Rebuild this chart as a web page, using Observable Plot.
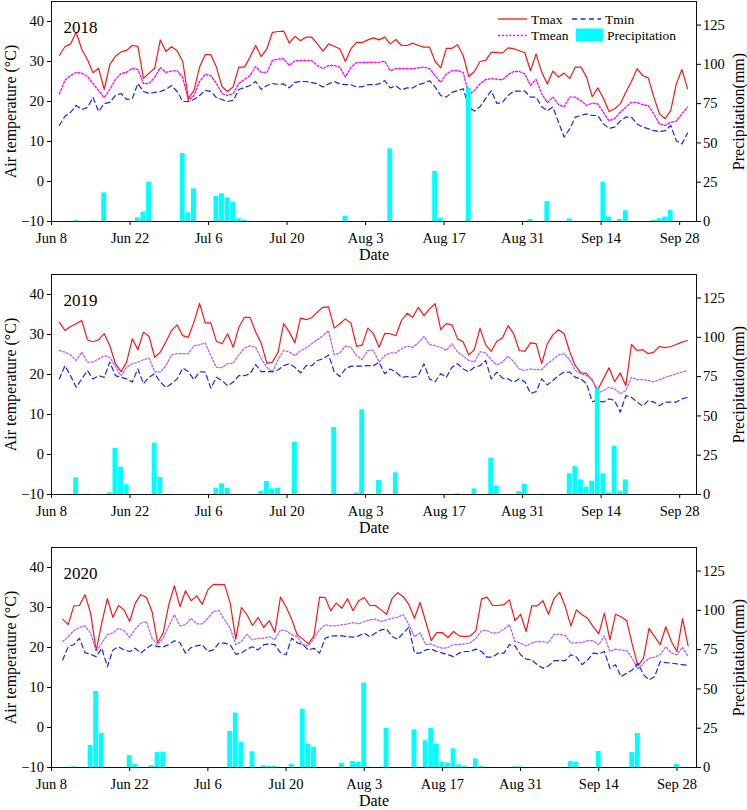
<!DOCTYPE html>
<html>
<head>
<meta charset="utf-8">
<script src="https://cdn.jsdelivr.net/npm/d3@7"></script>
<script src="https://cdn.jsdelivr.net/npm/@observablehq/plot@0.6"></script>
<style>
  body { margin: 0; background: #fff; }
  #chart { position: relative; width: 747px; height: 810px; overflow: hidden; }
  #chart svg { display: block; }
  #legend { position: absolute; left: 0; top: 0; }
</style>
</head>
<body>
<div id="chart"></div>
<script>
// ---------- axis ticks ----------
const tickDays = [0, 14, 28, 42, 56, 70, 84, 98, 112]; // days after Jun 8
const tickLabels = ["Jun 8", "Jun 22", "Jul 6", "Jul 20", "Aug 3", "Aug 17", "Aug 31", "Sep 14", "Sep 28"];
const tempTicks = [-10, 0, 10, 20, 30, 40];
const rainTicks = [0, 25, 50, 75, 100, 125];
const tempDomain = [-10, 45];
const rainMax = 140;

// ---------- 2018 ----------
const tmax2018 = [31.5,33.7,34.4,37.3,33.0,30.5,27.2,28.3,23.0,29.2,31.3,32.4,32.8,34.0,33.8,25.8,27.1,28.3,35.4,32.5,33.7,32.7,30.0,20.8,22.7,28.6,31.7,31.7,28.6,23.7,22.5,23.7,28.6,28.6,31.1,34.0,31.2,33.2,37.3,37.5,
  37.6,34.6,36.3,35.2,36.1,36.1,34.4,32.6,34.4,33.8,33.2,30.0,33.2,34.8,34.7,35.4,35.9,35.4,36.1,34.4,35.5,34.0,34.0,34.6,34.0,33.6,33.6,30.0,28.4,33.3,33.3,34.2,31.5,26.2,27.5,30.0,30.3,32.3,32.3,
  32.1,33.4,33.2,32.7,32.2,27.7,31.9,27.3,24.4,27.6,26.1,27.1,25.7,28.6,28.6,26.1,21.2,23.4,20.8,17.5,18.2,19.4,22.3,25.0,28.2,26.5,25.9,21.1,16.9,15.7,17.7,24.4,28.0,23.2];
const tmean2018 = [21.9,25.3,26.5,27.3,27.1,26.3,24.5,22.7,21.0,23.0,25.5,27.0,27.3,28.3,28.0,24.5,24.5,26.0,28.5,27.3,27.6,27.7,26.0,20.3,21.5,25.0,26.8,26.5,24.5,22.0,21.5,22.0,24.5,25.5,26.5,28.7,27.3,27.3,30.3,30.6,
  30.7,29.0,30.2,30.2,30.2,30.2,29.0,28.2,29.0,29.0,28.6,26.1,28.6,29.7,29.7,29.8,29.8,29.8,30.1,27.7,28.2,28.2,28.2,28.2,28.4,28.6,28.2,26.5,24.8,26.9,27.7,27.7,27.3,21.7,22.7,24.4,25.5,25.7,25.6,
  25.4,26.7,27.5,27.5,26.9,24.0,25.5,21.9,19.7,21.1,19.2,18.7,21.1,21.1,20.2,19.0,19.6,19.4,17.3,15.2,15.7,17.3,18.6,19.8,19.8,19.2,19.0,16.9,14.4,14.0,14.8,15.1,16.9,18.6];
const tmin2018 = [14.0,16.3,17.3,19.0,18.0,18.5,21.0,17.5,19.5,19.8,21.5,22.0,20.5,20.7,24.5,22.5,22.0,22.3,22.5,23.0,24.0,22.5,20.0,20.0,20.5,21.5,22.8,22.5,21.0,20.5,20.0,20.3,23.0,23.5,24.0,25.0,23.0,24.0,24.5,24.3,
  24.4,23.4,24.8,25.0,25.0,24.7,24.4,23.6,24.4,25.0,24.4,24.2,24.2,23.6,23.7,24.2,24.2,24.4,25.2,23.4,23.9,22.9,23.4,23.4,24.2,24.6,25.2,23.6,21.5,21.1,22.3,22.7,23.2,18.6,17.6,18.7,20.7,22.7,19.5,
  19.8,21.5,22.6,22.6,22.6,21.1,21.1,18.7,17.7,18.6,14.8,11.1,13.2,16.1,16.5,16.9,16.5,16.5,14.4,13.3,13.6,15.1,16.1,16.1,14.4,13.6,13.2,12.7,12.5,12.7,14.0,10.2,9.4,12.1];
const rainDay2018 = [3,6,8,14,15,16,22,23,24,28,29,30,31,32,33,51,59,67,68,73,84,87,91,97,98,100,101,106,107,108,109];
const rainMm2018  = [0.6,0.3,18.2,2.3,5.9,25,43.3,5.5,20.8,15.9,17.6,15,12.3,1.7,0.6,3.2,46.2,31.8,1.9,84.9,1.3,12.7,1.7,25,2.8,1.3,6.8,0.6,1.7,2.8,7];

// ---------- 2019 ----------
const tmax2019 = [33.1,31.0,32.0,32.7,33.5,28.7,28.2,28.7,30.2,27.2,22.7,20.7,23.1,28.9,26.2,30.6,29.5,24.3,25.6,28.2,31.0,32.4,29.7,29.3,33.1,37.8,32.9,32.9,28.3,27.7,30.2,26.8,31.8,34.3,34.3,30.6,27.8,22.8,23.1,25.6,
  32.7,30.6,27.9,34.1,33.7,34.2,35.6,36.8,36.9,31.6,32.7,33.9,32.8,27.0,27.4,31.6,30.2,26.8,30.2,30.2,29.7,33.5,35.3,34.3,36.8,34.7,36.4,37.7,31.2,32.7,32.4,28.9,28.2,24.9,26.2,31.6,27.4,25.8,28.3,
  29.1,32.2,30.2,26.0,25.8,27.9,27.7,22.7,27.7,29.9,31.2,30.2,25.7,22.2,20.4,20.3,18.5,16.2,18.9,21.7,18.2,20.4,17.2,27.5,26.0,26.2,25.2,25.6,27.0,26.7,27.0,27.5,28.1,28.5];
const tmean2019 = [26.0,25.6,24.9,23.5,25.6,23.1,23.1,23.9,24.7,24.3,22.0,19.7,21.8,22.7,23.1,23.7,24.1,20.7,20.6,22.2,24.9,25.2,25.2,25.2,27.2,27.4,27.9,24.7,21.8,21.7,22.7,22.8,24.9,26.6,27.2,26.8,23.9,21.8,20.6,23.7,
  26.0,25.6,24.7,26.0,26.6,27.7,28.7,29.7,31.0,24.9,25.4,27.1,26.8,24.7,23.7,26.0,26.0,23.1,24.7,25.4,25.4,26.4,27.1,26.8,27.9,29.5,27.5,27.2,26.8,26.0,27.7,25.6,24.6,23.5,23.1,25.7,25.4,23.7,22.4,
  23.1,24.6,23.2,21.4,21.0,21.4,21.2,21.2,22.7,23.7,24.9,25.2,23.7,21.0,20.2,19.7,18.9,15.2,16.0,16.8,16.4,15.2,16.0,19.3,18.7,18.7,18.5,18.2,18.7,19.3,19.7,20.2,20.6,21.0];
const tmin2019 = [18.9,22.2,19.7,16.8,18.9,21.0,18.9,19.7,19.3,23.1,19.7,19.3,18.9,18.1,21.4,17.7,19.3,20.2,18.1,16.8,17.7,18.9,21.6,20.7,18.7,20.7,20.6,16.6,19.3,18.5,17.2,18.1,19.7,19.7,20.2,22.5,20.7,20.7,20.7,21.2,
  22.2,22.7,21.8,20.4,22.2,22.2,23.5,23.9,24.9,20.7,19.5,21.4,22.1,22.1,22.1,22.2,22.2,23.1,20.2,21.4,20.6,19.3,19.5,19.3,19.7,22.7,18.9,18.2,20.2,19.3,21.8,22.7,21.4,20.7,21.8,22.2,23.5,18.9,20.6,
  19.1,18.9,18.1,18.9,18.2,15.3,15.7,18.9,17.4,18.5,19.7,20.6,20.6,19.3,18.9,17.7,13.2,13.5,13.1,13.9,13.5,10.6,14.7,14.3,13.1,12.1,13.5,13.1,12.2,13.1,13.1,13.1,13.9,14.3];
const rainDay2019 = [3,5,9,10,11,12,17,18,28,29,30,36,37,38,39,42,49,53,54,57,60,71,74,77,78,82,83,86,91,92,93,94,95,96,97,98,99,100,101];
const rainMm2019  = [10.6,0.2,1.0,29.3,17.4,6.2,32.7,10.8,3.8,6.8,3.8,2.1,8.3,3.6,4.0,33.3,42.6,1.0,53.9,8.9,13.8,0.4,3.6,23.1,5.3,1.9,6.4,0.2,13.2,17.8,9.3,4.7,8.5,67.2,13.2,1.0,30.8,2.1,9.3];

// ---------- 2020 ----------
const tmax2020 = [27.1,25.7,30.4,30.5,33.2,28.6,19.2,26.1,32.2,27.5,30.5,29.4,26.5,31.1,33.2,32.5,29.0,21.2,23.6,30.7,35.4,30.2,34.2,31.7,32.9,30.8,34.4,35.8,35.7,35.7,31.1,22.1,30.0,28.2,25.5,27.5,25.0,26.7,23.8,32.6,
  30.2,27.1,23.2,22.1,20.9,22.9,32.6,32.5,29.2,31.1,29.8,32.2,29.2,31.7,32.5,30.5,30.5,29.4,28.3,32.3,33.7,32.7,30.7,27.3,31.3,26.5,21.7,23.7,23.7,22.5,24.0,22.9,22.7,22.9,24.2,32.1,32.6,30.5,30.5,
  30.7,31.9,26.7,28.3,24.0,30.4,30.4,31.7,28.3,32.3,33.8,30.2,25.4,29.4,28.2,27.3,25.2,23.4,28.6,21.9,28.3,27.7,26.7,20.8,15.4,17.3,24.8,22.7,20.7,25.2,21.5,19.0,27.2,20.4];
const tmean2020 = [21.5,22.7,24.2,25.0,25.4,23.6,19.0,21.1,23.2,23.6,24.8,24.2,22.5,24.6,26.1,26.5,22.3,20.7,22.3,25.4,28.2,25.4,25.7,27.3,25.9,25.9,27.3,29.0,29.2,26.9,24.8,20.7,21.5,23.3,21.9,22.3,22.3,22.7,21.9,24.4,
  24.2,23.2,22.7,20.7,20.4,22.3,24.4,25.7,25.4,25.4,25.7,25.9,26.2,25.9,26.5,26.9,27.1,26.5,26.9,27.3,27.6,28.2,25.7,22.7,23.7,20.7,20.9,20.2,19.8,20.0,20.7,20.7,20.9,21.2,22.3,24.2,24.2,23.6,23.7,
  24.6,25.7,21.5,21.1,20.4,21.1,21.5,21.5,21.2,23.3,23.3,23.0,21.1,21.2,21.2,21.7,21.7,20.7,22.9,19.0,19.6,19.4,19.2,17.3,14.6,16.1,17.3,17.6,18.2,20.2,18.6,18.2,20.1,17.7];
const tmin2020 = [16.9,20.2,20.7,22.3,18.7,18.3,17.7,19.8,15.2,19.4,20.2,19.4,19.0,19.8,18.6,19.8,20.7,20.2,20.2,20.7,21.7,21.2,18.6,20.0,20.4,20.7,19.0,19.4,21.1,21.1,20.7,18.3,18.6,19.6,20.2,19.4,20.7,20.9,20.7,18.7,
  18.2,22.3,21.2,20.7,19.4,19.8,18.6,22.3,22.9,22.9,22.9,22.7,22.6,22.9,23.6,22.7,23.6,24.4,24.6,22.7,22.1,23.6,25.1,18.6,18.6,19.4,19.6,19.0,18.6,18.2,17.7,18.6,19.0,19.0,19.6,19.0,17.6,17.6,18.6,
  18.6,20.7,20.4,18.2,17.1,16.9,15.7,14.8,15.4,16.7,16.7,16.7,18.2,17.6,15.7,16.9,18.6,18.4,19.0,14.8,15.7,12.7,13.6,14.4,16.1,13.2,11.9,12.7,16.5,16.2,16.1,15.9,15.7,15.5];
const rainDay2020 = [1,2,5,6,7,12,13,16,17,18,30,31,32,34,36,37,38,41,43,44,45,50,52,53,54,55,57,58,63,65,66,67,68,69,70,71,72,74,75,81,82,91,92,96,102,103,104,110];
const rainMm2020  = [0.2,0.4,14,48.4,21.8,7.6,2.1,1.1,9.5,9.8,22.9,34.6,16.1,10,1.1,0.6,0.6,2.1,37.1,14.8,12.9,2.8,3.8,3.2,53.7,0.2,0.2,24.8,24,17,24.8,14.8,3.2,2.8,11.9,1.7,0.6,5.5,0.8,0.4,0.4,3.8,3.2,10.2,9.5,21.6,0.2,1.9];

// position (days after Jun 8) of the first daily value, and right end of x domain
const firstDay = {2018: 1.4, 2019: 1.4, 2020: 2.0};
const xEnd = {2018: 115, 2019: 115, 2020: 115.5};

const FONT = "'Liberation Serif', 'Times New Roman', serif";
const r2t = p => tempDomain[0] + p * (tempDomain[1] - tempDomain[0]) / rainMax;
const t2r = t => (t - tempDomain[0]) * rainMax / (tempDomain[1] - tempDomain[0]);
const fmtTemp = d => d < 0 ? "\u2212" + Math.abs(d) : String(d);

function panel(year, tmax, tmean, tmin, rainDay, rainMm, meanColor, height) {
  const x0 = firstDay[year];
  const days = tmax.map((v, i) => ({x: x0 + i, tmax: v, tmean: tmean[i], tmin: tmin[i]}));
  const rain = rainDay.map((k, i) => ({x: x0 + k, mm: rainMm[i]}));
  return Plot.plot({
    width: 747, height,
    marginLeft: 51, marginRight: 51, marginTop: 1, marginBottom: height - 221,
    style: {fontFamily: FONT, fontSize: "14.5px", color: "#000", background: "#fff", overflow: "visible"},
    x: {domain: [0, xEnd[year]]},
    y: {domain: tempDomain},
    marks: [
      Plot.line(days, {x: "x", y: "tmax", stroke: "#ff1414", strokeWidth: 1.2}),
      Plot.line(days, {x: "x", y: "tmean", stroke: meanColor, strokeWidth: 1.3, strokeDasharray: "2,1.8"}),
      Plot.line(days, {x: "x", y: "tmin", stroke: "#1f1fff", strokeWidth: 1.2, strokeDasharray: "5,3.5"}),
      Plot.rect(rain, {x1: d => d.x - 0.5, x2: d => d.x + 0.5, y1: d => tempDomain[0], y2: d => r2t(d.mm),
        fill: "#00ffff", insetLeft: 0.35, insetRight: 0.35}),
      Plot.frame({stroke: "#111", strokeWidth: 1}),
      Plot.axisX({ticks: tickDays, tickFormat: d => tickLabels[tickDays.indexOf(d)], tickSize: 4, tickPadding: 7, label: null}),
      Plot.axisY({ticks: tempTicks, tickFormat: fmtTemp, tickSize: 4, tickPadding: 3.5, label: null}),
      Plot.axisY({anchor: "right", ticks: rainTicks.map(r2t), tickFormat: t => String(Math.round(t2r(t))), tickSize: 4, tickPadding: 2.5, label: null}),
      Plot.text(["Date"], {frameAnchor: "bottom", dy: 38, fontSize: 16}),
      Plot.text(["Air temperature (\u00B0C)"], {frameAnchor: "left", dx: -41, rotate: -90, textAnchor: "middle", fontSize: 16}),
      Plot.text(["Precipitation(mm)"], {frameAnchor: "right", dx: 42, rotate: -90, textAnchor: "middle", fontSize: 16}),
      Plot.text([String(year)], {frameAnchor: "top-left", dx: 12, dy: 19, textAnchor: "start", fontSize: 17})
    ]
  });
}

const chart = document.getElementById("chart");
chart.appendChild(panel(2018, tmax2018, tmean2018, tmin2018, rainDay2018, rainMm2018, "#ff00ff", 273));
chart.appendChild(panel(2019, tmax2019, tmean2019, tmin2019, rainDay2019, rainMm2019, "#b266ff", 273));
chart.appendChild(panel(2020, tmax2020, tmean2020, tmin2020, rainDay2020, rainMm2020, "#b266ff", 264));

// ---------- legend (inside the first panel, top right) ----------
const legendItems = [
  {label: "Tmax", color: "#ff1414", dash: null, kind: "line", lx: 498, ly: 19},
  {label: "Tmin", color: "#1f1fff", dash: "5,3.5", kind: "line", lx: 572, ly: 19},
  {label: "Tmean", color: "#ff00ff", dash: "2,1.8", kind: "line", lx: 498, ly: 35.5},
  {label: "Precipitation", color: "#00ffff", dash: null, kind: "rect", lx: 576, ly: 35}
];
const NS = "http://www.w3.org/2000/svg";
const lg = document.createElementNS(NS, "svg");
lg.setAttribute("id", "legend");
lg.setAttribute("width", 747);
lg.setAttribute("height", 60);
legendItems.forEach(it => {
  if (it.kind === "line") {
    const l = document.createElementNS(NS, "line");
    l.setAttribute("x1", it.lx); l.setAttribute("x2", it.lx + 29);
    l.setAttribute("y1", it.ly); l.setAttribute("y2", it.ly);
    l.setAttribute("stroke", it.color); l.setAttribute("stroke-width", 1.3);
    if (it.dash) l.setAttribute("stroke-dasharray", it.dash);
    lg.appendChild(l);
  } else {
    const r = document.createElementNS(NS, "rect");
    r.setAttribute("x", it.lx); r.setAttribute("y", it.ly - 6.5);
    r.setAttribute("width", 27); r.setAttribute("height", 13);
    r.setAttribute("fill", it.color);
    lg.appendChild(r);
  }
  const t = document.createElementNS(NS, "text");
  t.setAttribute("x", it.lx + (it.kind === "rect" ? 31 : 33));
  t.setAttribute("y", it.ly);
  t.setAttribute("dy", "0.35em");
  t.setAttribute("font-family", FONT);
  t.setAttribute("font-size", "13.5px");
  t.textContent = it.label;
  lg.appendChild(t);
});
chart.appendChild(lg);
</script>
</body>
</html>
